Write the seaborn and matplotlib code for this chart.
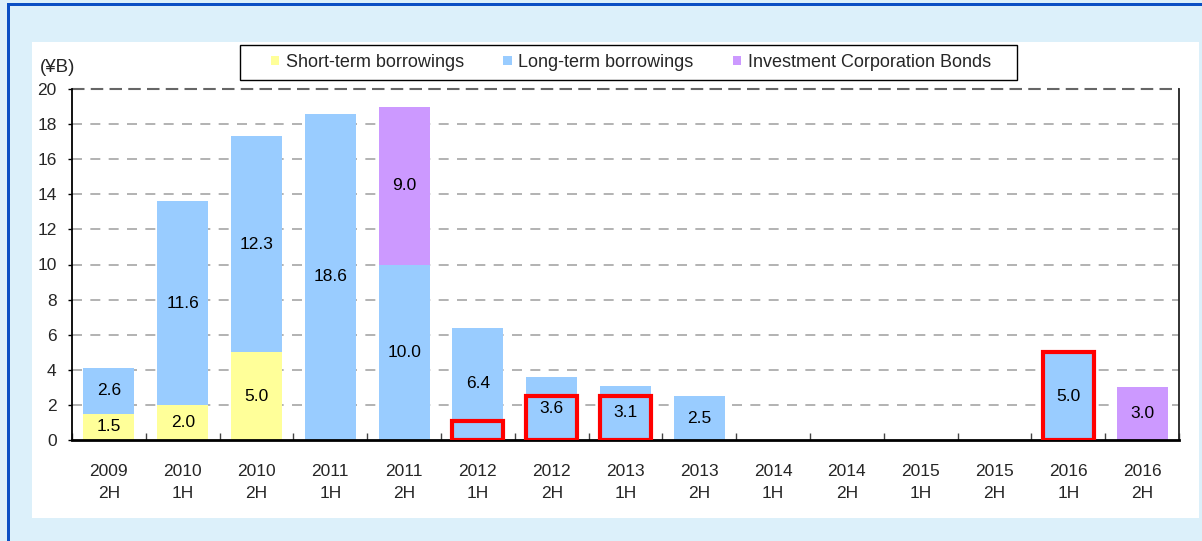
import matplotlib
matplotlib.use("Agg")
import matplotlib.pyplot as plt
import matplotlib.patches as mpatches
import numpy as np
import seaborn as sns

# ---- data ----
categories = ["2009\n2H", "2010\n1H", "2010\n2H", "2011\n1H", "2011\n2H",
              "2012\n1H", "2012\n2H", "2013\n1H", "2013\n2H", "2014\n1H",
              "2014\n2H", "2015\n1H", "2015\n2H", "2016\n1H", "2016\n2H"]
short_term = [1.5, 2.0, 5.0, 0, 0, 0, 0, 0, 0, 0, 0, 0, 0, 0, 0]
long_term = [2.6, 11.6, 12.3, 18.6, 10.0, 6.4, 3.6, 3.1, 2.5, 0, 0, 0, 0, 5.0, 0]
bonds = [0, 0, 0, 0, 9.0, 0, 0, 0, 0, 0, 0, 0, 0, 0, 3.0]
highlight_cats = ["2012\n1H", "2012\n2H", "2013\n1H", "2016\n1H"]
highlight_vals = [1.1, 2.5, 2.5, 5.0]
series_names = ["Short-term borrowings", "Long-term borrowings", "Investment Corporation Bonds"]
y_ticks = [0, 2, 4, 6, 8, 10, 12, 14, 16, 18, 20]

c_short = "#FFFF99"
c_long = "#99CCFF"
c_bond = "#CC99FF"

sns.set_style("white")
plt.rcParams["font.family"] = ["Liberation Sans", "DejaVu Sans"]

W, H = 1202, 541
fig = plt.figure(figsize=(W / 100, H / 100), dpi=100)
fig.patch.set_facecolor("#DCF0FA")

def px_rect(x0, y0, x1, y1, z=-10, **kw):
    r = mpatches.Rectangle((x0 / W, 1 - y1 / H), (x1 - x0) / W, (y1 - y0) / H,
                           transform=fig.transFigure, zorder=z, **kw)
    fig.add_artist(r)

# frame borders and white panel
px_rect(7, 3, W, 6, color="#0A4FC4", lw=0)
px_rect(7, 3, 10, H, color="#0A4FC4", lw=0)
px_rect(32, 42, 1199, 518, color="white", lw=0)
# legend box
px_rect(240, 45, 1017, 80, z=-5, facecolor="white", edgecolor="black", lw=1.0)

ax = fig.add_axes([72 / W, 1 - 440 / H, (1179 - 72) / W, (440 - 89) / H])
ax.set_facecolor("none")

s = np.array(short_term)
l = np.array(long_term)
b = np.array(bonds)
tot3 = s + l + b
tot2 = s + l

bw = 0.69
for vals, col in ((tot3, c_bond), (tot2, c_long), (s, c_short)):
    sns.barplot(x=categories, y=vals, color=col, saturation=1, width=bw, ax=ax,
                order=categories, linewidth=0, edgecolor="none")

# highlight boxes
hx = [categories.index(c) for c in highlight_cats]
ax.bar(hx, highlight_vals, width=bw, fill=False, edgecolor="#FF0000", linewidth=3, zorder=5)

# value labels
fs = 12.5
for i in range(len(categories)):
    for bottom, val in ((0, s[i]), (s[i], l[i]), (s[i] + l[i], b[i])):
        if val > 0:
            ax.text(i, bottom + val / 2, f"{val:.1f}", ha="center", va="center",
                    fontsize=fs, color="black", zorder=6)

ax.set_ylim(0, 20)
ax.set_xlim(-0.5, len(categories) - 0.5)
ax.set_yticks(y_ticks)
ax.set_xlabel("")
ax.set_ylabel("")

# grid
for yv in y_ticks[1:-1]:
    ax.axhline(yv, color="#A6A6A6", lw=1.2, ls=(0, (6, 5)), zorder=0)
ax.axhline(20, color="#666666", lw=1.5, ls=(0, (6, 3)), zorder=0, clip_on=False)

ax.spines["top"].set_visible(False)
ax.spines["left"].set_color("black")
ax.spines["left"].set_linewidth(1.3)
ax.spines["bottom"].set_color("black")
ax.spines["bottom"].set_linewidth(2)
ax.spines["right"].set_color("#222222")
ax.spines["right"].set_linewidth(1.3)

ax.tick_params(axis="y", direction="out", length=3, width=1, color="black",
               labelsize=fs, pad=8, left=True)
ax.tick_params(axis="x", which="major", length=0, labelsize=fs, pad=17)
ax.set_xticks(np.arange(-0.5, len(categories), 1.0), minor=True)
ax.tick_params(axis="x", which="minor", direction="in", length=5, width=1,
               color="#444444", bottom=True)
for t in ax.get_xticklabels():
    t.set_linespacing(1.62)

fig.text(40 / W, 1 - 67 / H, "(¥B)", fontsize=13.5, va="center", ha="left")

# legend
handles = [mpatches.Patch(facecolor=c, edgecolor="none") for c in (c_short, c_long, c_bond)]
leg = fig.legend(handles, series_names, loc="center", bbox_to_anchor=(631 / W, 1 - 62.5 / H),
                 ncol=3, frameon=False, prop={"size": 13},
                 handlelength=0.45, handleheight=0.45, handletextpad=0.38,
                 columnspacing=2.2, borderpad=0.2, borderaxespad=0)

fig.savefig("out.png", dpi=100, facecolor=fig.get_facecolor())
